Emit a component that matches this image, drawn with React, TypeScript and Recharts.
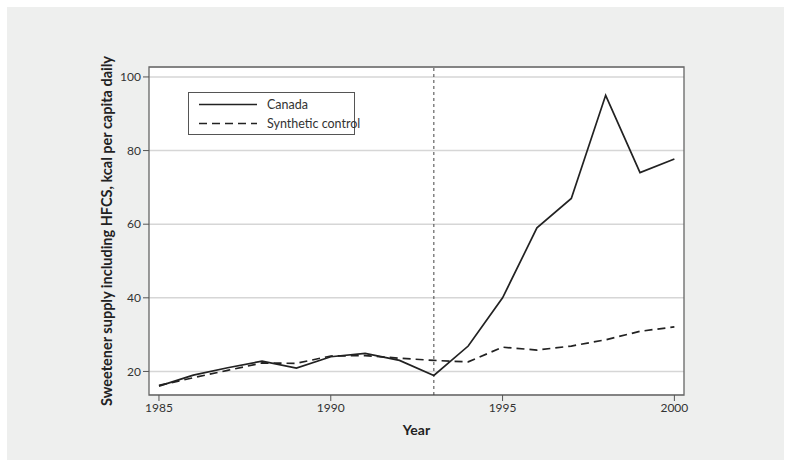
import { CartesianGrid, Label, Line, LineChart, ReferenceArea, ReferenceLine, XAxis, YAxis } from 'recharts'

const YEARS = [1985, 1986, 1987, 1988, 1989, 1990, 1991, 1992, 1993, 1994, 1995, 1996, 1997, 1998, 1999, 2000]
const CANADA = [16, 19, 21, 22.8, 20.9, 24, 24.9, 23, 18.9, 26.9, 40, 59, 67, 95, 74, 77.7]
const SYNTHETIC = [16.2, 18.3, 20.3, 22.3, 22.2, 24.2, 24.3, 23.6, 23, 22.6, 26.6, 25.8, 26.9, 28.6, 30.9, 32.1]
const X_TICKS = [1985, 1990, 1995, 2000]
const Y_TICKS = [20, 40, 60, 80, 100]
const X_DOMAIN = [1984.71, 2000.28]
const Y_DOMAIN = [13.6, 102.7]
const TREATMENT_YEAR = 1993

const SERIES = [
  { key: 'canada', name: 'Canada', dash: undefined as string | undefined },
  { key: 'synthetic', name: 'Synthetic control', dash: '8 5' },
]

const FONT = 'Lato, "Noto Sans", sans-serif'
const INK = '#222'

function LegendBox() {
  return (
    <div
      style={{
        position: 'absolute',
        left: 181,
        top: 85,
        width: 167,
        height: 43,
        border: '1px solid #555',
        background: '#fff',
        fontFamily: FONT,
        fontSize: 12.5,
        color: '#333',
        boxSizing: 'border-box',
        whiteSpace: 'nowrap',
      }}
    >
      {SERIES.map((s, i) => (
        <div key={s.key} style={{ display: 'flex', alignItems: 'center', height: 19, marginTop: i === 0 ? 2 : 0 }}>
          <svg width={78} height={19} style={{ display: 'block', flex: 'none' }}>
            <line x1={10} x2={68} y1={9.5} y2={9.5} stroke={INK} strokeWidth={1.6} strokeDasharray={s.dash} />
          </svg>
          <span>{s.name}</span>
        </div>
      ))}
    </div>
  )
}

export default function App() {
  const data = YEARS.map((year, i) => ({ year, canada: CANADA[i], synthetic: SYNTHETIC[i] }))

  return (
    <div style={{ position: 'fixed', left: 0, top: 0, width: 791, height: 468, background: '#fff' }}>
      <div style={{ position: 'absolute', left: 7, top: 7, width: 777, height: 453, background: '#eeefee' }}>
        <LineChart width={777} height={453} data={data} margin={{ top: 60, right: 100, bottom: 25, left: 58 }}>
          <CartesianGrid vertical={false} stroke="#d6d6d6" strokeWidth={1.5} fill="#fff" />
          <XAxis
            dataKey="year"
            type="number"
            domain={X_DOMAIN}
            ticks={X_TICKS}
            allowDataOverflow
            axisLine={false}
            tickLine={{ stroke: '#555' }}
            tickSize={6}
            height={40}
            tick={{ fontSize: 12, fill: '#333', fontFamily: FONT }}
          >
            <Label value="Year" position="insideBottom" offset={0} style={{ fontSize: 14, fontWeight: 700, fill: INK, fontFamily: FONT }} />
          </XAxis>
          <YAxis
            type="number"
            domain={Y_DOMAIN}
            ticks={Y_TICKS}
            allowDataOverflow
            axisLine={false}
            tickLine={{ stroke: '#555' }}
            tickSize={6}
            width={84}
            tick={{ fontSize: 12, fill: '#333', fontFamily: FONT }}
          >
            <Label
              value="Sweetener supply including HFCS, kcal per capita daily"
              angle={-90}
              position="center"
              style={{ fontSize: 14.5, fontWeight: 700, fill: INK, fontFamily: FONT, textAnchor: 'middle' }}
            />
          </YAxis>
          <ReferenceArea x1={X_DOMAIN[0]} x2={X_DOMAIN[1]} y1={Y_DOMAIN[0]} y2={Y_DOMAIN[1]} fill="none" stroke="#666" strokeWidth={1.3} fillOpacity={0} />
          <ReferenceLine x={TREATMENT_YEAR} stroke="#444" strokeDasharray="3 3" strokeWidth={1} />
          {SERIES.map((s) => (
            <Line
              key={s.key}
              dataKey={s.key}
              name={s.name}
              stroke={INK}
              strokeWidth={1.7}
              strokeDasharray={s.dash}
              dot={false}
              isAnimationActive={false}
            />
          ))}
        </LineChart>
        <LegendBox />
      </div>
    </div>
  )
}
